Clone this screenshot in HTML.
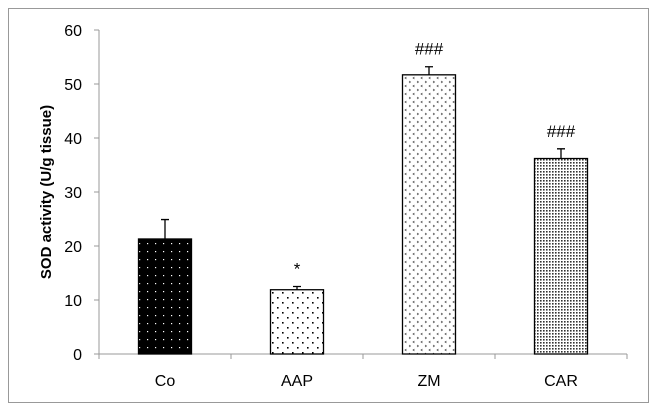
<!DOCTYPE html>
<html><head><meta charset="utf-8"><style>
body{margin:0;background:#fff;}
svg{display:block;font-family:"Liberation Sans",sans-serif;}
</style></head><body>
<svg id="chart" width="658" height="412" viewBox="0 0 658 412">
<defs>
<pattern id="pCo" width="8" height="8" patternUnits="userSpaceOnUse"><rect width="8" height="8" fill="#000"/><rect x="3" y="3" width="1.2" height="1.2" fill="#fff"/></pattern>
<pattern id="pAAP" width="10" height="10" patternUnits="userSpaceOnUse"><rect width="10" height="10" fill="#fff"/><rect x="2" y="2" width="1.6" height="1.6" fill="#000"/><rect x="7" y="7" width="1.6" height="1.6" fill="#000"/></pattern>
<pattern id="pZM" width="8" height="8" patternUnits="userSpaceOnUse"><rect width="8" height="8" fill="#fff"/><path d="M1 1 l1.5 1 l-1.5 1" stroke="#333" stroke-width="0.7" fill="none"/><path d="M6.5 5 l-1.5 1 l1.5 1" stroke="#333" stroke-width="0.7" fill="none"/></pattern>
<pattern id="pCAR" width="3" height="3" patternUnits="userSpaceOnUse"><rect width="3" height="3" fill="#fff"/><rect x="0" y="0" width="1.6" height="1.6" fill="#333"/></pattern>
</defs>
<rect x="8.5" y="8.5" width="640" height="394" fill="none" stroke="#999" stroke-width="1"/>
<g id="axes"></g>
<g id="bars"></g>
<text transform="translate(51,192) rotate(-90)" text-anchor="middle" font-size="15" font-weight="bold" fill="#000">SOD activity (U/g tissue)</text>
</svg>
<script>
const categories=["Co","AAP","ZM","CAR"];
const values=[21.3,11.9,51.7,36.2];
const errors=[3.6,0.6,1.5,1.8];
const marks=["","*","###","###"];
const yTicks=[0,10,20,30,40,50,60];
const fills=["url(#pCo)","url(#pAAP)","url(#pZM)","url(#pCAR)"];
const NS="http://www.w3.org/2000/svg";
const x0=99,x1=627,yBase=354,yTop=30,yMax=60;
const bandW=(x1-x0)/categories.length, barW=53;
const y=v=>yBase-(v/yMax)*(yBase-yTop);
const xc=i=>x0+bandW*(i+0.5);
function mk(t,a,p){const e=document.createElementNS(NS,t);for(const k in a)e.setAttribute(k,a[k]);p.appendChild(e);return e;}
const ax=document.getElementById('axes'), bg=document.getElementById('bars');
let l=mk('line',{x1:x0,y1:yTop,x2:x0,y2:yBase,stroke:'#999'},ax);


l=mk('line',{x1:x0,y1:yBase,x2:x1,y2:yBase,stroke:'#999'},ax);


yTicks.forEach(t=>{
 const tk=mk('line',{x1:x0-5,y1:y(t),x2:x0,y2:y(t),stroke:'#999'},ax);
 
 
 const tx=mk('text',{x:x0-17,y:y(t)+6,'text-anchor':'end','font-size':'16',fill:'#000'},ax);
 tx.textContent=t;
 
 
});
for(let i=0;i<=categories.length;i++){
 const tk=mk('line',{x1:x0+bandW*i,y1:yBase,x2:x0+bandW*i,y2:yBase+5,stroke:'#999'},ax);
 
 
}
categories.forEach((c,i)=>{
 const cx=xc(i);
 const r=mk('rect',{x:cx-barW/2,y:y(values[i]),width:barW,height:yBase-y(values[i]),fill:fills[i],stroke:'#000','stroke-width':'1.3'},bg);
 
 
 const et=y(values[i]+errors[i]);
 const e=mk('path',{d:`M${cx} ${y(values[i])} V${et} M${cx-4} ${et} H${cx+4}`,stroke:'#000','stroke-width':'1.3',fill:'none'},bg);
 
 
 if(marks[i]){
  const m=mk('text',{x:cx,y:et-12,'text-anchor':'middle','font-size':'17',fill:'#000'},bg);
  m.textContent=marks[i];
  
  
 }
 const lb=mk('text',{x:cx,y:386,'text-anchor':'middle','font-size':'16',fill:'#000'},bg);
 lb.textContent=c;
 
 
});
</script>
</body></html>
